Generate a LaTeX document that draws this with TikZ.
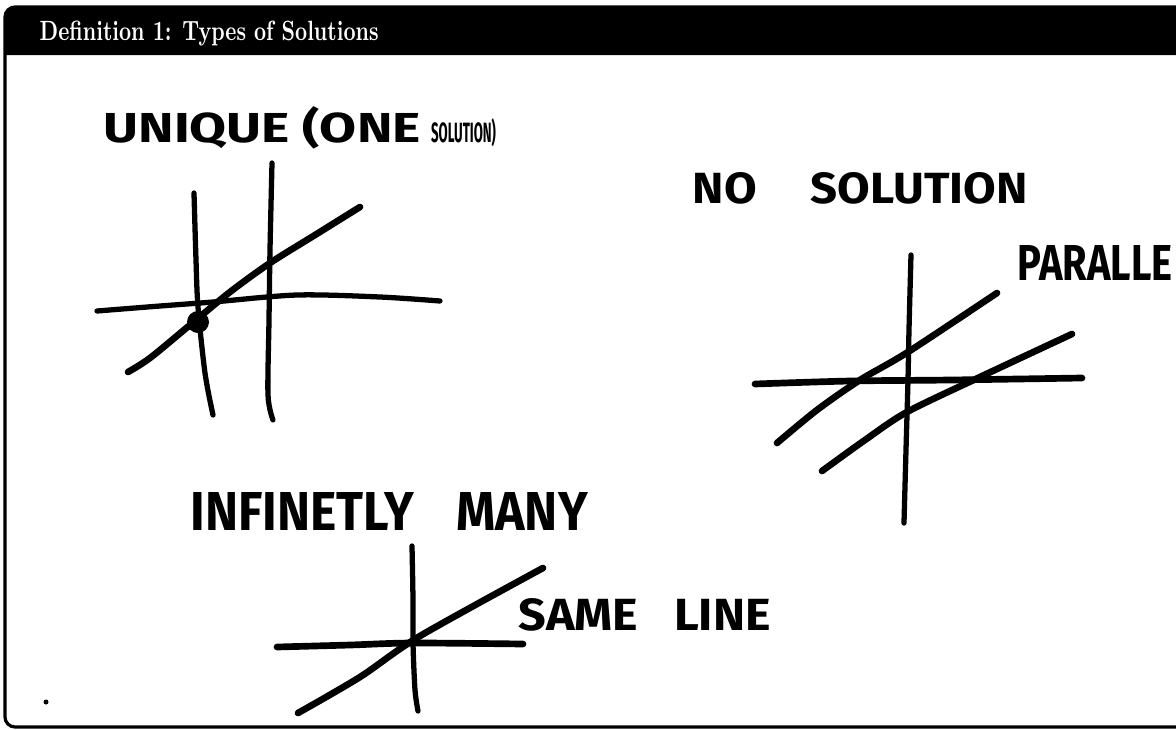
\documentclass[tikz,border=0pt]{standalone}
\usepackage{fontspec}
\newfontfamily\handfont{Fira Sans}
\usetikzlibrary{positioning}

\newcommand{\hw}[3]{\resizebox{#1}{#2}{#3}}

\begin{document}
\begin{tikzpicture}[
    x=0.1mm, y=-0.1mm,
    sketch/.style={line width=1.5pt, line cap=round, line join=round},
    heavy/.style={sketch, line width=1.9pt},
    hand/.style={inner sep=0pt, anchor=base west, font=\handfont\bfseries}
]
    \useasboundingbox (0,0) rectangle (1176,729);
    \clip (0,0) rectangle (1176,729);

    % frame and title bar
    \draw[line width=0.9pt, rounded corners=1mm] (1200,727) -- (5,727) -- (5,7) -- (1200,7);
    \fill (5,55) [rounded corners=1mm] -- (5,7) -- (1200,7) [sharp corners] -- (1200,55) -- cycle;
    \node[white, anchor=base west, inner sep=0pt] (title) at (39,40) {\hw{33.9mm}{1.95mm}{\textbf{Definition 1: Types of Solutions}}};

    % labels
    \node[hand] (unique) at (103,142) {\hw{31.7mm}{3.6mm}{UNIQUE (ONE} \hspace{0.2mm}\hw{6.5mm}{2.4mm}{SOLUTION)}};
    \node[hand] (nosol) at (692,203) {\hw{33.5mm}{3.1mm}{NO \hspace{0.9em}SOLUTION}};
    \node[hand] (parallel) at (1017,280) {\hw{15.5mm}{3.5mm}{PARALLE}};
    \node[hand] (infinite) at (190,530) {\hw{39.7mm}{3.8mm}{INFINETLY \hspace{0.6em}MANY}};
    \node[hand] (sameline) at (518,630) {\hw{25.2mm}{3.2mm}{SAME \hspace{0.5em}LINE}};

    % one solution
    \draw[sketch] plot[smooth] coordinates {(194,193) (196,260) (198,307) (205,373) (213,415)};
    \draw[sketch] plot[smooth] coordinates {(272,163) (270,250) (269,320) (268,395) (273,420)};
    \draw[sketch] plot[smooth] coordinates {(97,311) (160,306) (213,302) (297,295) (380,297) (440,301)};
    \draw[heavy] plot[smooth] coordinates {(128,372) (150,358) (190,325) (230,292) (270,263) (315,235) (360,207)};
    \fill (198,322) circle (1.1mm);

    % no solution
    \draw[sketch] plot[smooth] coordinates {(911,255) (909,330) (908,380) (906,450) (904,523)};
    \draw[heavy] plot[smooth] coordinates {(755,384) (850,381) (950,380) (1082,378)};
    \draw[heavy] plot[smooth] coordinates {(777,443) (817,410) (860,380) (908,352) (997,293)};
    \draw[heavy] plot[smooth] coordinates {(822,471) (865,440) (907,412) (980,377) (1072,334)};

    % infinitely many
    \draw[sketch] plot[smooth] coordinates {(412,546) (413,600) (413,643) (415,690) (418,711)};
    \draw[heavy] plot[smooth] coordinates {(277,647) (350,645) (412,643) (523,644)};
    \draw[heavy] plot[smooth, tension=0.5] coordinates {(298,713) (360,677) (420,636) (543,568)};

    \fill (46,702) circle (0.25mm);
\end{tikzpicture}
\end{document}
